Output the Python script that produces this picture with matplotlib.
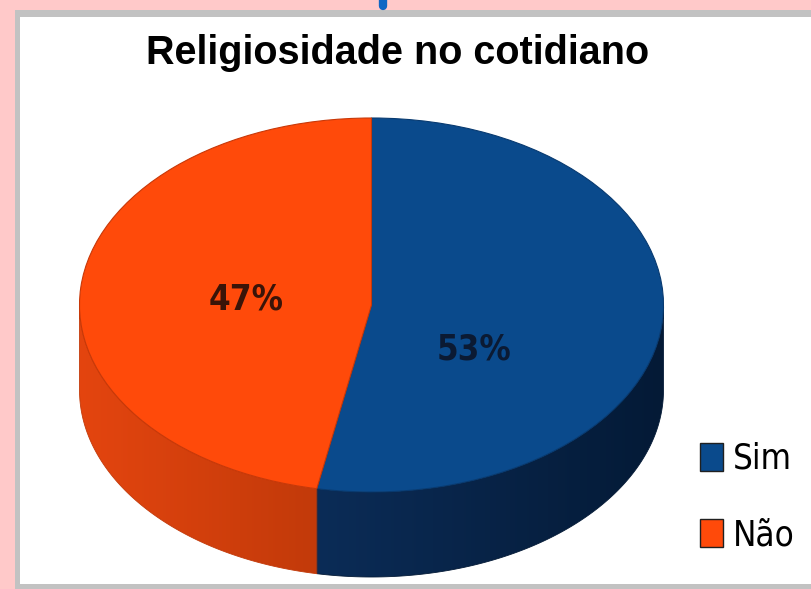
import numpy as np
import matplotlib
matplotlib.use("Agg")
import matplotlib.pyplot as plt
from matplotlib.patches import Polygon, Rectangle
from matplotlib.lines import Line2D
from matplotlib.colors import LinearSegmentedColormap

# data
labels = ["Sim", "Não"]
values = [53, 47]
top_colors = ["#0A4A8C", "#FF4A0A"]
edge_colors = ["#083A70", "#C83808"]
side_cmaps = [["#0B2C57", "#041A36"], ["#E4450F", "#C23A0A"]]
title = "Religiosidade no cotidiano"

narrow = ["Liberation Sans Narrow", "DejaVu Sans"]

W, H = 812, 589
fig = plt.figure(figsize=(W / 100, H / 100), dpi=100, facecolor="#FFC9C9")

# frame of the chart area (grey band + white panel)
fig.patches.append(Rectangle((15 / W, 0), 1 - 15 / W, (H - 10) / H,
                             transform=fig.transFigure, facecolor="#C2C2C2",
                             edgecolor="none", zorder=-2))
fig.patches.append(Rectangle((20 / W, 5 / H), 1 - 20 / W, (H - 17 - 5) / H,
                             transform=fig.transFigure, facecolor="white",
                             edgecolor="none", zorder=-1))
fig.lines.append(Line2D([383 / W, 383 / W], [1.02, (H - 6) / H],
                        transform=fig.transFigure, color="#0F66C4",
                        linewidth=6, solid_capstyle="round"))

# pie geometry in pixels (centre, half axes, depth)
cx, cy, a, b, depth = 371.5, 305, 292, 187, 85
d = depth / b
x0, x1 = -1.1, 1.1
y0, y1 = -1.5, 1.1
ax = fig.add_axes([(cx + x0 * a) / W, (H - (cy - y0 * b)) / H,
                   (x1 - x0) * a / W, (y1 - y0) * b / H])
ax.set_zorder(1)

wedges, _, pcts = ax.pie(values, colors=top_colors, startangle=90,
                         counterclock=False, radius=1,
                         autopct="%1.0f%%", pctdistance=0.43,
                         wedgeprops=dict(linewidth=0.8),
                         textprops=dict(fontsize=25, family=narrow,
                                        fontstretch="condensed",
                                        fontweight="bold"))
for w, ec in zip(wedges, edge_colors):
    w.set_edgecolor(ec)
    w.set_zorder(3)
ax.set_aspect("auto")
ax.axis("off")

pcts[0].set_position((0.35, -0.24))
pcts[0].set_color("#0B1A33")
pcts[1].set_color("#3A1408")
pcts[1].set_position((-0.43, 0.03))
for t in pcts:
    t.set_zorder(5)


def front_range(t1, t2):
    # part of [t1, t2] (deg) lying on the front half [-180, 0]
    for shift in (0, 360, -360):
        lo, hi = max(t1 + shift, -180), min(t2 + shift, 0)
        if hi > lo:
            return lo, hi
    return None


for w, cols in zip(wedges, side_cmaps):
    rng = front_range(w.theta1, w.theta2)
    if rng is None:
        continue
    t = np.radians(np.linspace(rng[0], rng[1], 200))
    top = np.column_stack([np.cos(t), np.sin(t)])
    bot = np.column_stack([np.cos(t[::-1]), np.sin(t[::-1]) - d])
    poly = Polygon(np.vstack([top, bot]), closed=True, facecolor="none",
                   edgecolor=cols[1], linewidth=0.6, zorder=2)
    ax.add_patch(poly)
    cmap = LinearSegmentedColormap.from_list("side", cols)
    grad = np.linspace(0, 1, 256).reshape(1, -1)
    xs = np.cos(t)
    im = ax.imshow(grad, cmap=cmap, aspect="auto", zorder=1,
                   extent=[xs.min(), xs.max(), -1 - d, 0])
    im.set_clip_path(poly)

ax.set_xlim(x0, x1)
ax.set_ylim(y0, y1)

fig.text(398 / W, 1 - 53 / H, title, ha="center", va="center",
         fontsize=28.5, fontweight="bold", family="Liberation Sans")

handles = [Rectangle((0, 0), 1, 1, facecolor=c, edgecolor="#202020", linewidth=1)
           for c in top_colors]
fig.legend(handles, labels, loc="center left",
           bbox_to_anchor=(700 / W, 1 - 497 / H), frameon=False,
           prop=dict(family=narrow, size=25, stretch="condensed"),
           handlelength=0.65, handleheight=0.85, handletextpad=0.3,
           labelspacing=1.22, borderpad=0, borderaxespad=0)

fig.savefig("out.png", dpi=100, facecolor=fig.get_facecolor())
